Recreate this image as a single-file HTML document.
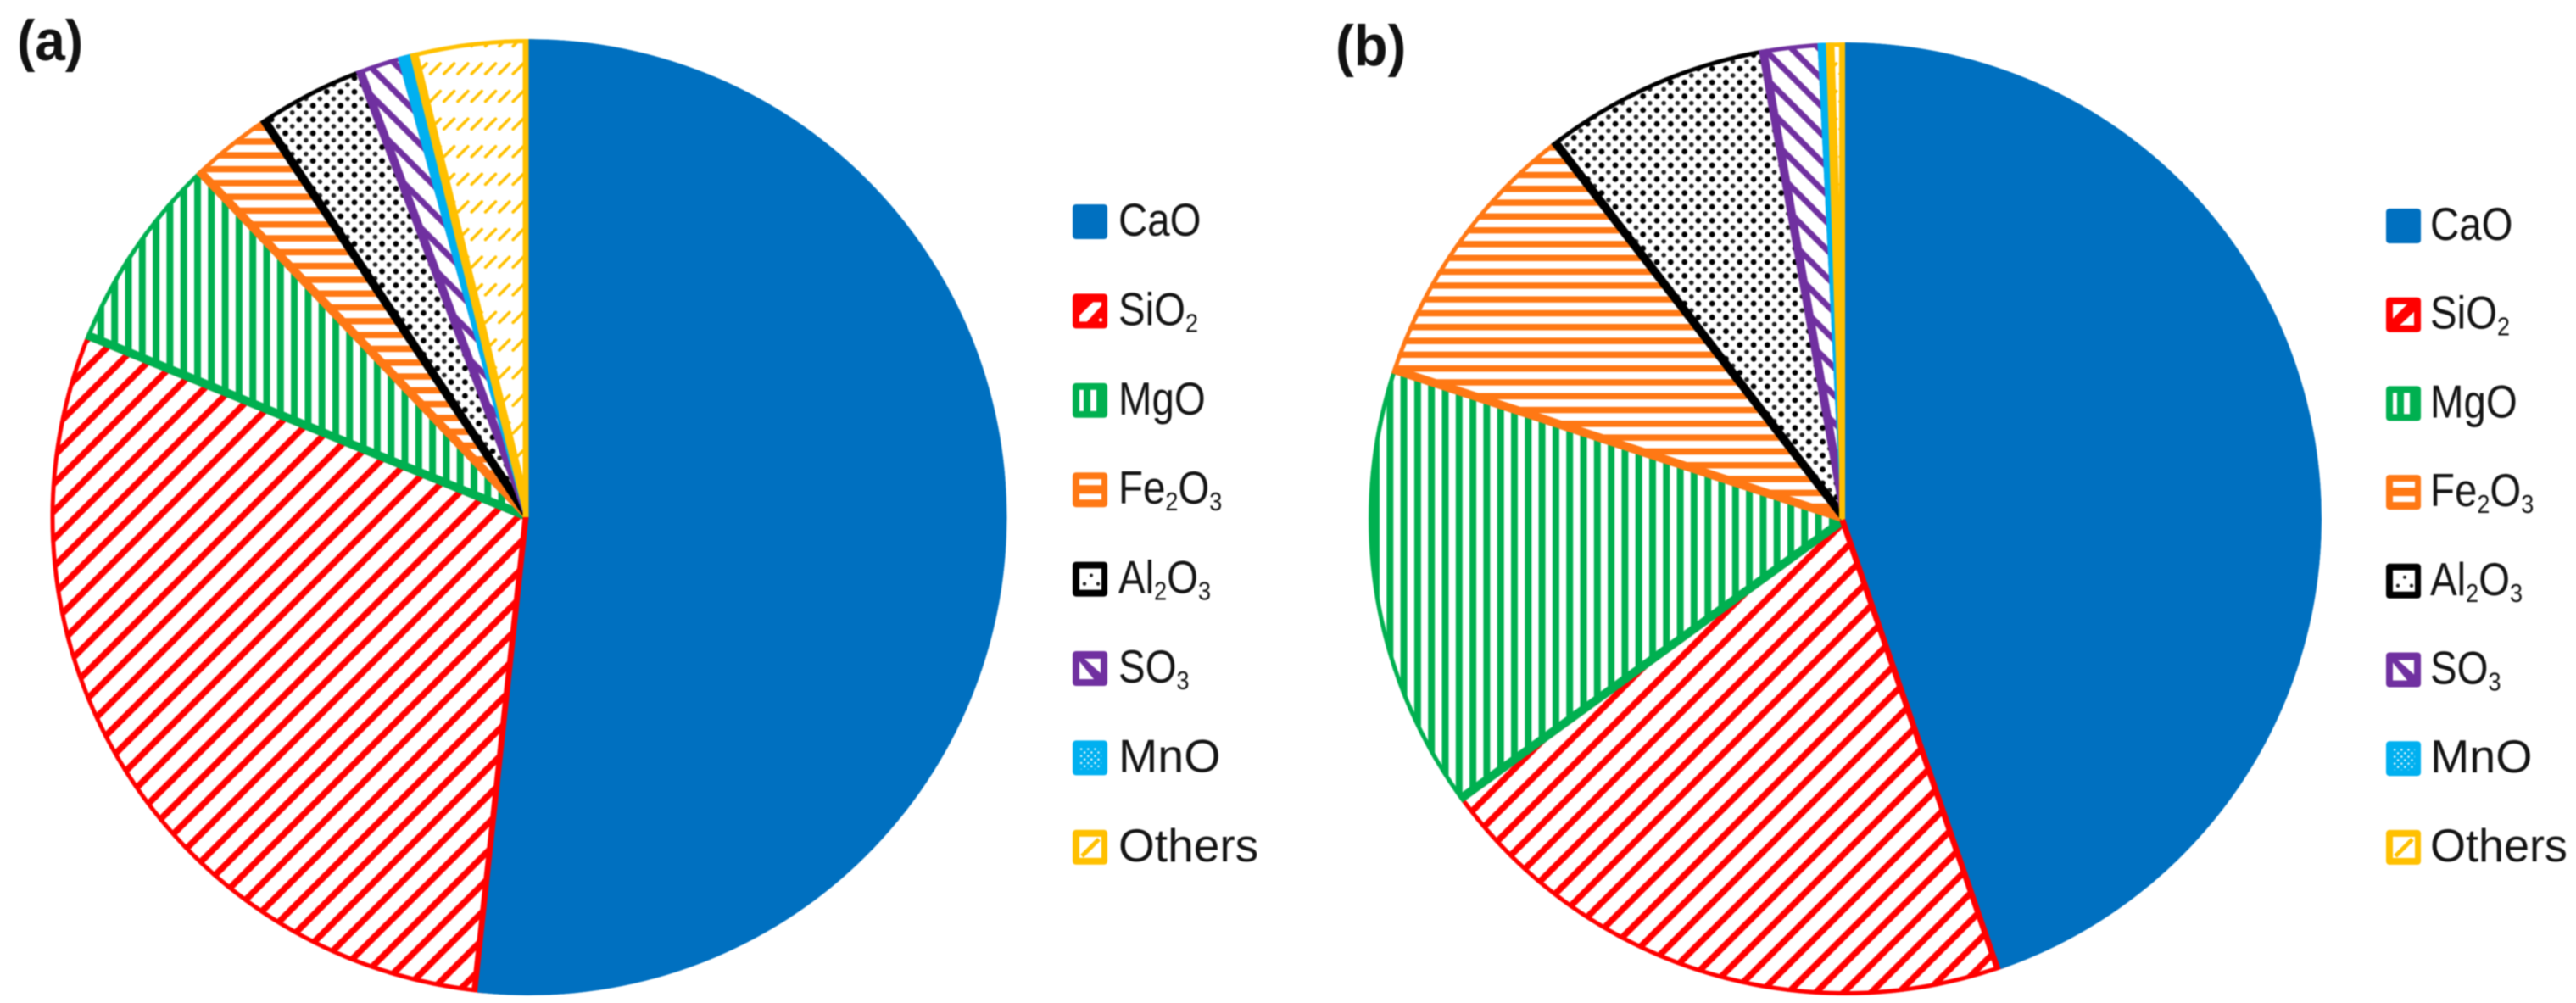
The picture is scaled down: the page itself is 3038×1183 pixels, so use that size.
<!DOCTYPE html>
<html lang="en">
<head>
<meta charset="utf-8">
<title>Oxide composition pie charts</title>
<style>
html,body{margin:0;padding:0;background:#fff;width:3038px;height:1183px;overflow:hidden}
svg{display:block;filter:blur(.7px)}
.lg{font-family:"Liberation Sans",sans-serif;font-size:54.5px;fill:#141414}
.sb{font-size:31px}
.pl{font-family:"Liberation Sans",sans-serif;font-size:68px;font-weight:bold;fill:#111}
</style>
</head>
<body>
<svg id="chart" xmlns="http://www.w3.org/2000/svg" width="3038" height="1183" viewBox="0 0 3038 1183">
<defs>
  <!-- base hatch tiles -->
  <pattern id="red" patternUnits="userSpaceOnUse" width="32.6" height="32.6">
    <rect width="32.6" height="32.6" fill="#fff"/>
    <g stroke="#FF0000" stroke-width="7.5">
      <line x1="-8" y1="40.6" x2="40.6" y2="-8"/>
      <line x1="-8" y1="8" x2="8" y2="-8"/>
      <line x1="24.6" y1="40.6" x2="40.6" y2="24.6"/>
    </g>
  </pattern>
  <pattern id="purple" patternUnits="userSpaceOnUse" width="32.6" height="32.6">
    <rect width="32.6" height="32.6" fill="#fff"/>
    <g stroke="#7030A0" stroke-width="7">
      <line x1="-8" y1="-8" x2="40.6" y2="40.6"/>
      <line x1="24.6" y1="-8" x2="40.6" y2="8"/>
      <line x1="-8" y1="24.6" x2="8" y2="40.6"/>
    </g>
  </pattern>
  <pattern id="green" patternUnits="userSpaceOnUse" width="16.3" height="16.3">
    <rect width="16.3" height="16.3" fill="#fff"/>
    <rect x="0" y="0" width="8" height="16.3" fill="#00B050"/>
  </pattern>
  <pattern id="orange" patternUnits="userSpaceOnUse" width="16.3" height="16.3">
    <rect width="16.3" height="16.3" fill="#fff"/>
    <rect x="0" y="0" width="16.3" height="7.5" fill="#FF7814"/>
  </pattern>
  <pattern id="dots" patternUnits="userSpaceOnUse" width="16.3" height="16.3">
    <rect width="16.3" height="16.3" fill="#fff"/>
    <circle cx="4" cy="4" r="3.4" fill="#000"/>
    <circle cx="12.15" cy="12.15" r="2.8" fill="#000" opacity=".85"/>
  </pattern>
  <pattern id="dashes" patternUnits="userSpaceOnUse" width="16.3" height="32.6">
    <rect width="16.3" height="32.6" fill="#fff"/>
    <line x1="2.15" y1="22.3" x2="14.15" y2="10.3" stroke="#FFC000" stroke-width="3.5" stroke-linecap="round"/>
  </pattern>
  <pattern id="mesh" patternUnits="userSpaceOnUse" width="8.15" height="8.15">
    <rect width="8.15" height="8.15" fill="#00B0F0"/>
    <circle cx="2" cy="2" r="1.2" fill="#fff"/>
    <circle cx="6" cy="6" r="1.2" fill="#fff"/>
  </pattern>

  <!-- per-panel phase of each hatch -->
  <pattern id="red-a" href="#red" patternTransform="translate(14.5,0)"/>
  <pattern id="red-b" href="#red" patternTransform="translate(19.6,0)"/>
  <pattern id="green-a" href="#green" patternTransform="translate(.8,0)"/>
  <pattern id="green-b" href="#green" patternTransform="translate(5.3,0)"/>
  <pattern id="orange-a" href="#orange" patternTransform="translate(0,.2)"/>
  <pattern id="orange-b" href="#orange" patternTransform="translate(0,7.1)"/>
  <pattern id="dots-a" href="#dots" patternTransform="translate(6.5,6.5)"/>
  <pattern id="dots-b" href="#dots" patternTransform="translate(10.3,11.7)"/>
  <pattern id="purple-a" href="#purple" patternTransform="translate(32,0)"/>
  <pattern id="purple-b" href="#purple" patternTransform="translate(1.7,0)"/>
  <pattern id="mesh-a" patternUnits="userSpaceOnUse" width="8" height="8"><rect width="8" height="8" fill="#00B0F0"/></pattern>
  <pattern id="mesh-b" patternUnits="userSpaceOnUse" width="8" height="8"><rect width="8" height="8" fill="#00B0F0"/></pattern>
  <pattern id="dashes-a" href="#dashes" patternTransform="translate(-.15,-.5)"/>
  <pattern id="dashes-b" href="#dashes" patternTransform="translate(-.15,-.5)"/>

  <!-- legend swatches -->
  <g id="sw-cao"><rect width="41" height="41" rx="4" fill="#0070C0"/></g>
  <g id="sw-sio2-a"><rect width="41" height="41" rx="4" fill="#FF0000"/>
    <polygon points="8,26 24,10 34,10 34,14 17,33 8,33" fill="#fff"/><circle cx="33" cy="31" r="2" fill="#fff"/></g>
  <g id="sw-sio2-b"><rect width="41" height="41" rx="4" fill="#FF0000"/>
    <polygon points="8,8 25,8 8,25" fill="#fff"/><polygon points="33,33 33,17 16,33" fill="#fff"/></g>
  <g id="sw-mgo"><rect width="41" height="41" rx="4" fill="#00B050"/>
    <rect x="8" y="8" width="5" height="25" fill="#fff"/><rect x="21" y="8" width="7" height="25" fill="#fff"/></g>
  <g id="sw-fe"><rect width="41" height="41" rx="4" fill="#FF7814"/>
    <rect x="8" y="8" width="26" height="7" fill="#fff"/><rect x="8" y="25" width="26" height="7" fill="#fff"/></g>
  <g id="sw-al"><rect width="41" height="41" rx="4" fill="#000"/>
    <rect x="8" y="8" width="26" height="25" fill="#fff"/>
    <circle cx="22" cy="16" r="2" fill="#222"/><circle cx="14" cy="26" r="2.2" fill="#222"/><circle cx="30" cy="26" r="2.2" fill="#222"/></g>
  <g id="sw-so3"><rect width="41" height="41" rx="4" fill="#7030A0"/>
    <polygon points="14,9 33,9 33,26" fill="#fff"/><polygon points="8,12 25,33 8,33" fill="#fff"/></g>
  <g id="sw-mno"><rect width="41" height="41" rx="4" fill="#00B0F0"/>
    <rect x="8" y="8" width="26" height="26" fill="url(#mesh)" opacity=".95"/></g>
  <g id="sw-others"><rect width="41" height="41" rx="4" fill="#FFC000"/>
    <rect x="8" y="8" width="26" height="25" fill="#fff"/>
    <line x1="11" y1="31" x2="31" y2="11" stroke="#FFC000" stroke-width="5"/></g>
</defs>

<rect width="3038" height="1183" fill="#fff"/>
<g id="pie-a"></g>
<g id="pie-b"></g>

<text class="pl" transform="translate(20,71) scale(.94,1)">(a)</text>
<text class="pl" transform="translate(1575,77) scale(.96,1)">(b)</text>

<g>
  <g transform="translate(1265,241)"><use href="#sw-cao"/><text class="lg" transform="translate(54,37) scale(.87,1)">CaO</text></g>
  <g transform="translate(1265,346.4)"><use href="#sw-sio2-a"/><text class="lg" transform="translate(54,37) scale(.87,1)">SiO<tspan class="sb" dy="8">2</tspan></text></g>
  <g transform="translate(1265,451.8)"><use href="#sw-mgo"/><text class="lg" transform="translate(54,37) scale(.87,1)">MgO</text></g>
  <g transform="translate(1265,557.2)"><use href="#sw-fe"/><text class="lg" transform="translate(54,37) scale(.87,1)">Fe<tspan class="sb" dy="8">2</tspan><tspan dy="-8">O</tspan><tspan class="sb" dy="8">3</tspan></text></g>
  <g transform="translate(1265,662.6)"><use href="#sw-al"/><text class="lg" transform="translate(54,37) scale(.87,1)">Al<tspan class="sb" dy="8">2</tspan><tspan dy="-8">O</tspan><tspan class="sb" dy="8">3</tspan></text></g>
  <g transform="translate(1265,768)"><use href="#sw-so3"/><text class="lg" transform="translate(54,37) scale(.87,1)">SO<tspan class="sb" dy="8">3</tspan></text></g>
  <g transform="translate(1265,873.4)"><use href="#sw-mno"/><text class="lg" transform="translate(54,37) scale(1.02,1)">MnO</text></g>
  <g transform="translate(1265,978.8)"><use href="#sw-others"/><text class="lg" transform="translate(54,37) scale(1.01,1)">Others</text></g>
</g>

<g>
  <g transform="translate(2814,246)"><use href="#sw-cao"/><text class="lg" transform="translate(52,37) scale(.87,1)">CaO</text></g>
  <g transform="translate(2814,350.7)"><use href="#sw-sio2-b"/><text class="lg" transform="translate(52,37) scale(.87,1)">SiO<tspan class="sb" dy="8">2</tspan></text></g>
  <g transform="translate(2814,455.4)"><use href="#sw-mgo"/><text class="lg" transform="translate(52,37) scale(.87,1)">MgO</text></g>
  <g transform="translate(2814,560.1)"><use href="#sw-fe"/><text class="lg" transform="translate(52,37) scale(.87,1)">Fe<tspan class="sb" dy="8">2</tspan><tspan dy="-8">O</tspan><tspan class="sb" dy="8">3</tspan></text></g>
  <g transform="translate(2814,664.8)"><use href="#sw-al"/><text class="lg" transform="translate(52,37) scale(.87,1)">Al<tspan class="sb" dy="8">2</tspan><tspan dy="-8">O</tspan><tspan class="sb" dy="8">3</tspan></text></g>
  <g transform="translate(2814,769.5)"><use href="#sw-so3"/><text class="lg" transform="translate(52,37) scale(.87,1)">SO<tspan class="sb" dy="8">3</tspan></text></g>
  <g transform="translate(2814,874.2)"><use href="#sw-mno"/><text class="lg" transform="translate(52,37) scale(1.02,1)">MnO</text></g>
  <g transform="translate(2814,978.9)"><use href="#sw-others"/><text class="lg" transform="translate(52,37) scale(.99,1)">Others</text></g>
</g>
</svg>

<script>
const categories = ["CaO", "SiO2", "MgO", "Fe2O3", "Al2O3", "SO3", "MnO", "Others"];
const valuesA = [51.7, 29.5, 6.67, 2.75, 3.6, 1.47, 0.42, 3.86];
const valuesB = [44.7, 20.28, 15.1, 9.47, 7.68, 1.98, 0.28, 0.5];

const strokeColors = ["#0070C0", "#FF0000", "#00B050", "#FF7814", "#000000", "#7030A0", "#00B0F0", "#FFC000"];
const hatchNames = ["", "red", "green", "orange", "dots", "purple", "mesh", "dashes"];
const SVG_NS = "http://www.w3.org/2000/svg";

function pointAt(geom, deg) {
  const t = deg * Math.PI / 180;
  return [geom.cx + geom.r * Math.sin(t), geom.cy - geom.r * Math.cos(t)];
}
function slicePath(geom, a0, a1) {
  const p0 = pointAt(geom, a0);
  const p1 = pointAt(geom, a1);
  const large = (a1 - a0) > 180 ? 1 : 0;
  return "M" + geom.cx + "," + geom.cy + "L" + p0[0] + "," + p0[1] +
    "A" + geom.r + "," + geom.r + " 0 " + large + " 1 " + p1[0] + "," + p1[1] + "Z";
}
function edgeLine(parent, geom, deg, color, label) {
  const p = pointAt(geom, deg);
  const el = document.createElementNS(SVG_NS, "line");
  el.setAttribute("x1", geom.cx);
  el.setAttribute("y1", geom.cy);
  el.setAttribute("x2", p[0]);
  el.setAttribute("y2", p[1]);
  el.setAttribute("stroke", color);
  el.setAttribute("stroke-width", 14);
  
  
  parent.appendChild(el);
}
function drawPie(rootId, suffix, geom, values) {
  const root = document.getElementById(rootId);
  const total = values.reduce(function (s, v) { return s + v; }, 0);
  const angles = [0];
  values.forEach(function (v, i) { angles.push(angles[i] + v / total * 360); });

  const clip = document.createElementNS(SVG_NS, "clipPath");
  clip.setAttribute("id", "clip-" + suffix);
  const disc = document.createElementNS(SVG_NS, "circle");
  disc.setAttribute("cx", geom.cx);
  disc.setAttribute("cy", geom.cy);
  disc.setAttribute("r", geom.r);
  clip.appendChild(disc);
  root.appendChild(clip);

  const g = document.createElementNS(SVG_NS, "g");
  g.setAttribute("clip-path", "url(#clip-" + suffix + ")");
  
  
  root.appendChild(g);

  for (let i = 1; i < values.length; i++) {
    const el = document.createElementNS(SVG_NS, "path");
    el.setAttribute("d", slicePath(geom, angles[i], angles[i + 1]));
    el.setAttribute("fill", "url(#" + hatchNames[i] + "-" + suffix + ")");
    el.setAttribute("stroke", strokeColors[i]);
    el.setAttribute("stroke-width", 10);
    el.setAttribute("stroke-linejoin", "round");
    
    
    g.appendChild(el);
  }
  edgeLine(g, geom, angles[1], strokeColors[1], 'slice-edge-sio2');
  edgeLine(g, geom, 0, strokeColors[7], 'slice-edge-others');

  const main = document.createElementNS(SVG_NS, "path");
  main.setAttribute("d", slicePath(geom, angles[0], angles[1]));
  main.setAttribute("fill", strokeColors[0]);
  
  
  g.appendChild(main);
}
drawPie("pie-a", "a", { cx: 623.5, cy: 610, r: 564 }, valuesA);
drawPie("pie-b", "b", { cx: 2176, cy: 612, r: 562 }, valuesB);
</script>
</body>
</html>
